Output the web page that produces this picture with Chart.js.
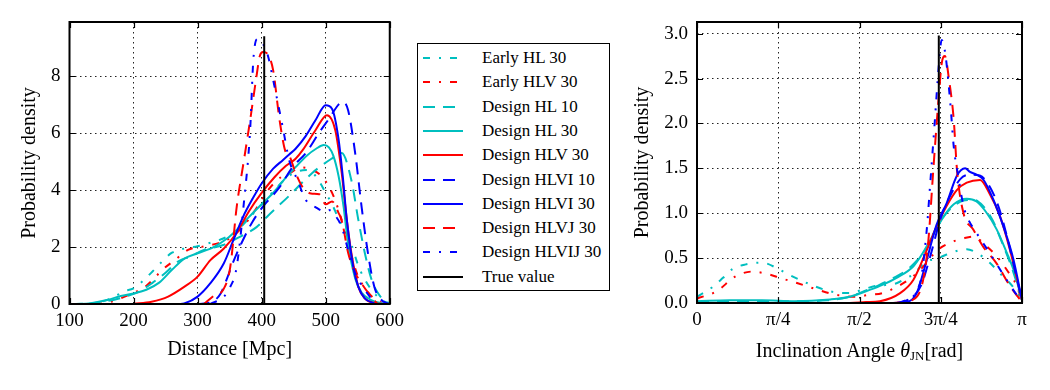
<!DOCTYPE html>
<html><head><meta charset="utf-8">
<script src="https://cdn.jsdelivr.net/npm/chart.js@4.4.1/dist/chart.umd.min.js"></script>
<style>
html,body{margin:0;padding:0;background:#fff;}
body{width:1050px;height:390px;position:relative;overflow:hidden;font-family:"Liberation Serif","Times New Roman",serif;color:#000;}
#c1{position:absolute;left:0;top:0;}
#c2{position:absolute;left:620px;top:0;}
#legend{position:absolute;left:417px;top:43px;width:193px;height:248px;border:1.5px solid #000;box-sizing:border-box;background:#fff;}
.row{position:absolute;left:0;height:24px;width:190px;}
.row svg{position:absolute;left:5px;top:0;}
.row span{position:absolute;left:64px;top:0;line-height:24px;font-size:17px;white-space:nowrap;}
#xt2{position:absolute;left:697px;width:325px;top:338px;text-align:center;font-size:20px;line-height:24px;white-space:nowrap;}
#xt2 sub{font-size:13px;line-height:0;vertical-align:-3px;}
</style>
</head><body>
<canvas id="c1" width="410" height="390"></canvas>
<div id="legend"></div>
<canvas id="c2" width="430" height="390"></canvas>
<div id="xt2">Inclination Angle <i>θ</i><sub>JN</sub>[rad]</div>
<script>
// ---------------- DATA ----------------
const seriesNames = ['Early HL 30','Early HLV 30','Design HL 10','Design HL 30','Design HLV 30','Design HLVI 10','Design HLVI 30','Design HLVJ 30','Design HLVIJ 30','True value'];

// Left panel: distance [Mpc] vs probability density
const distTicks = [100,200,300,400,500,600];
const distYTicks = [0,2,4,6,8];

const dEarlyHL30X  = [110,130,150,170,185,200,215,230,245,260,280,300,320,340,360,380,400,420,440,460,470,480,490,500,510,520,530,540,550,560,575,590,600];
const dEarlyHL30Y  = [0,0.02,0.08,0.25,0.45,0.55,0.82,1.15,1.5,1.8,1.95,2.03,2.15,2.3,2.55,3.0,3.5,4.0,4.45,4.68,4.7,4.6,4.3,3.9,3.5,3.0,2.6,2.1,1.4,0.9,0.4,0.1,0.03];
const dEarlyHLV30X = [140,160,180,200,215,230,245,265,285,305,330,350,370,390,410,430,445,460,480,495,510,520,530,540,550,560,575,590];
const dEarlyHLV30Y = [0,0.05,0.2,0.4,0.55,0.85,1.2,1.55,1.9,2.0,2.12,2.3,2.7,3.3,4.0,4.45,4.6,4.8,4.7,4.45,3.9,3.3,2.5,1.7,1.0,0.6,0.2,0.02];
const dHL10X   = [130,150,170,190,210,230,250,270,290,310,340,366,392,410,443,479,509,525,540,551,561,571,581,594,600];
const dHL10Y   = [0,0.08,0.15,0.28,0.45,0.75,1.1,1.5,1.68,1.9,2.07,2.36,2.7,3.1,3.8,4.6,5.1,5.3,4.35,2.95,1.8,0.9,0.4,0.08,0.02];
const dHL30X   = [100,130,160,180,200,220,240,260,280,300,325,346,361,380,400,420,440,455,470,485,497,505,512,520,528,535,546,556,571,587,600];
const dHL30Y   = [0,0.02,0.15,0.28,0.37,0.5,0.75,1.2,1.6,1.78,2.0,2.3,2.6,3.05,3.5,3.95,4.5,4.85,5.2,5.45,5.58,5.5,5.2,4.5,3.4,2.1,0.9,0.4,0.14,0.03,0];
const dHLV30X  = [200,228,254,279,300,320,341,361,380,400,420,438,453,464,484,502,515,525,533,540,551,561,576,590];
const dHLV30Y  = [0,0.08,0.26,0.6,0.96,1.54,1.95,2.5,3.25,3.9,4.45,4.85,5.1,5.4,6.1,6.63,6.1,4.6,2.95,1.8,0.6,0.2,0.03,0];
const dHLVI10X = [300,323,336,346,356,372,386,402,428,448,469,489,505,520,527,535,546,556,566,576,587,597];
const dHLVI10Y = [0,0.08,0.37,0.9,1.5,2.3,2.9,3.42,4.1,4.8,5.3,5.99,6.5,7.0,7.1,6.8,5.3,3.42,1.78,0.6,0.14,0.02];
const dHLVI30X = [270,279,300,320,341,356,371,386,400,418,433,443,453,469,484,500,510,520,527,533,543,551,561,576];
const dHLVI30Y = [0,0.02,0.26,0.73,1.43,2.25,3.06,3.7,4.23,4.75,5.05,5.25,5.45,5.9,6.45,6.98,6.85,5.8,4.4,2.95,1.31,0.6,0.2,0.02];
const dHLVJ30X = [310,326,340,351,361,372,382,392,397,402,410,418,428,438,443,453,464,477,490,500,510,520,525,535,546,556,571,581];
const dHLVJ30Y = [0,0.3,0.5,1.3,3.4,5.0,6.45,8.0,8.7,8.85,8.75,8.2,6.45,5.3,5.2,4.6,4.1,3.88,3.85,3.5,3.6,3.2,2.95,1.8,1.1,0.72,0.26,0];
const dHLVIJ30X = [320,341,351,361,372,382,387,393,400,410,418,433,443,456,469,484,500,505,515,525,535,546,561,576];
const dHLVIJ30Y = [0,0.26,0.6,1.3,3.5,6.1,8.56,9.3,9.2,8.7,7.86,6.2,5.05,4.35,3.65,3.4,3.24,3.3,3.1,2.7,1.9,1.08,0.5,0.05];
const dTrueX = [404,404];
const dTrueY = [0,9.4];

// Right panel: inclination angle (in units of pi) vs probability density
const incTicks = [0,0.25,0.5,0.75,1];
const incTickLabels = ['0','π/4','π/2','3π/4','π'];
const incYTicks = [0,0.5,1.0,1.5,2.0,2.5,3.0];

const iEarlyHL30X  = [0,0.045,0.08,0.11,0.15,0.2,0.25,0.28,0.34,0.41,0.47,0.51,0.55,0.58,0.614,0.645,0.666,0.7,0.743,0.768,0.809,0.83,0.86,0.9,0.94,0.97,1.0];
const iEarlyHL30Y  = [0.07,0.17,0.28,0.38,0.43,0.45,0.38,0.32,0.22,0.13,0.11,0.15,0.19,0.2,0.22,0.28,0.32,0.45,0.5,0.54,0.59,0.6,0.56,0.45,0.3,0.19,0.02];
const iEarlyHLV30X = [0,0.06,0.12,0.17,0.22,0.255,0.31,0.37,0.43,0.48,0.53,0.57,0.62,0.666,0.7,0.737,0.778,0.82,0.85,0.892,0.922,0.953,0.984,1.0];
const iEarlyHLV30Y = [0.05,0.13,0.3,0.35,0.32,0.28,0.22,0.15,0.09,0.07,0.09,0.11,0.19,0.3,0.42,0.58,0.67,0.72,0.74,0.63,0.52,0.37,0.19,0.02];
const iHL10X   = [0,0.1,0.2,0.3,0.4,0.47,0.52,0.56,0.6,0.65,0.7,0.74,0.78,0.82,0.85,0.88,0.91,0.94,0.97,1.0];
const iHL10Y   = [0.01,0.02,0.02,0.02,0.03,0.07,0.14,0.2,0.27,0.38,0.58,0.86,1.05,1.14,1.15,1.08,0.92,0.66,0.38,0.03];
const iHL30X   = [0,0.1,0.2,0.3,0.41,0.47,0.52,0.563,0.614,0.666,0.697,0.73,0.76,0.79,0.83,0.86,0.892,0.922,0.953,0.974,1.0];
const iHL30Y   = [0.02,0.03,0.03,0.02,0.04,0.07,0.13,0.19,0.28,0.41,0.57,0.78,0.97,1.1,1.16,1.13,1.0,0.82,0.56,0.37,0.03];
const iHLV30X  = [0,0.3,0.45,0.52,0.563,0.625,0.666,0.707,0.737,0.768,0.8,0.83,0.871,0.9,0.932,0.963,1.0];
const iHLV30Y  = [0,0,0,0.01,0.02,0.11,0.26,0.59,0.85,1.08,1.26,1.34,1.37,1.22,0.97,0.59,0.03];
const iHLVI10X = [0,0.3,0.6,0.66,0.69,0.72,0.75,0.78,0.81,0.84,0.87,0.9,0.93,0.96,0.99,1.0];
const iHLVI10Y = [0,0,0,0.06,0.2,0.55,0.95,1.2,1.38,1.43,1.42,1.3,1.05,0.65,0.18,0.04];
const iHLVI30X = [0,0.3,0.6,0.645,0.676,0.707,0.737,0.768,0.8,0.825,0.84,0.86,0.882,0.912,0.943,0.974,1.0];
const iHLVI30Y = [0,0,0,0.01,0.11,0.48,0.87,1.11,1.42,1.5,1.46,1.43,1.37,1.15,0.85,0.48,0.03];
const iHLVJ30X = [0.6,0.666,0.696,0.712,0.727,0.743,0.753,0.763,0.775,0.79,0.8,0.82,0.85,0.88,0.92,0.963,0.994,1.0];
const iHLVJ30Y = [0,0.04,0.26,0.7,1.48,2.26,2.67,2.75,2.5,2.04,1.48,1.0,0.82,0.63,0.45,0.19,0.04,0.02];
const iHLVIJ30X = [0.62,0.635,0.686,0.706,0.717,0.732,0.743,0.753,0.765,0.78,0.79,0.804,0.82,0.835,0.86,0.9,0.94,0.98,1.0];
const iHLVIJ30Y = [0,0.02,0.22,0.78,1.3,2.04,2.6,2.93,2.75,2.2,1.74,1.41,1.08,0.93,0.78,0.56,0.33,0.11,0.02];
const iTrueX = [0.744,0.744];
const iTrueY = [0,2.98];

// ---------------- STYLES ----------------
const CYAN = '#00BFBF', RED = '#FF0000', BLUE = '#0000FF', BLACK = '#000000';
const DASH = [12,8], DASHDOT = [7,9,2,9], SOLID = [];
const seriesColors = [CYAN, RED, CYAN, CYAN, RED, BLUE, BLUE, RED, BLUE, BLACK];
const seriesDashes = [DASHDOT, DASHDOT, DASH, SOLID, SOLID, DASH, SOLID, DASH, DASHDOT, SOLID];
const FONT = '"Liberation Serif","Times New Roman",serif';

const pts = (xs, ys) => xs.map((x, i) => ({x: x, y: ys[i]}));
function makeDatasets(list) {
  const n = list.length;
  return list.map((pair, i) => ({
    label: seriesNames[i],
    data: pts(pair[0], pair[1]),
    borderColor: seriesColors[i],
    backgroundColor: seriesColors[i],
    borderDash: seriesDashes[i],
    borderWidth: 2,
    pointRadius: 0,
    fill: false,
    tension: 0.4,
    cubicInterpolationMode: i === n - 1 ? 'default' : 'monotone',
    order: n - i
  }));
}

const framePlugin = {
  id: 'frame',
  afterDatasetsDraw(chart) {
    const {ctx, chartArea: a, scales: {x, y}} = chart;
    ctx.save();
    ctx.setLineDash([]);
    ctx.strokeStyle = '#000';
    ctx.lineWidth = 1.2;
    const L = 6;
    ctx.beginPath();
    x.ticks.forEach(t => {
      const p = Math.round(x.getPixelForValue(t.value)) + 0.5;
      ctx.moveTo(p, a.bottom); ctx.lineTo(p, a.bottom - L);
      ctx.moveTo(p, a.top); ctx.lineTo(p, a.top + L);
    });
    y.ticks.forEach(t => {
      const p = Math.round(y.getPixelForValue(t.value)) + 0.5;
      ctx.moveTo(a.left, p); ctx.lineTo(a.left + L, p);
      ctx.moveTo(a.right, p); ctx.lineTo(a.right - L, p);
    });
    ctx.stroke();
    ctx.lineWidth = 2;
    ctx.strokeRect(a.left, a.top, a.right - a.left, a.bottom - a.top);
    ctx.restore();
  }
};

function axis(opts) {
  return {
    type: 'linear',
    min: opts.min, max: opts.max,
    afterBuildTicks: ax => { ax.ticks = opts.ticks.map(v => ({value: v})); },
    afterFit: opts.fit,
    ticks: {
      callback: opts.label, autoSkip: false, maxRotation: 0, minRotation: 0,
      color: '#000', font: {family: FONT, size: 19}, padding: opts.pad
    },
    grid: {color: '#222', lineWidth: 1, drawTicks: false},
    border: {display: false, dash: [1.5, 3.5]},
    title: opts.title ? {display: true, text: opts.title, color: '#000', font: {family: FONT, size: 20}, padding: opts.tpad} : {display: false}
  };
}

const baseOpts = (pad, xs, ys) => ({
  responsive: false, animation: false, devicePixelRatio: 1,
  layout: {padding: pad, autoPadding: false},
  plugins: {legend: {display: false}, tooltip: {enabled: false}},
  scales: {x: xs, y: ys}
});

// Left chart
new Chart(document.getElementById('c1'), {
  type: 'line',
  data: {datasets: makeDatasets([
    [dEarlyHL30X, dEarlyHL30Y], [dEarlyHLV30X, dEarlyHLV30Y], [dHL10X, dHL10Y], [dHL30X, dHL30Y],
    [dHLV30X, dHLV30Y], [dHLVI10X, dHLVI10Y], [dHLVI30X, dHLVI30Y], [dHLVJ30X, dHLVJ30Y],
    [dHLVIJ30X, dHLVIJ30Y], [dTrueX, dTrueY]
  ])},
  options: baseOpts({left: 0, top: 22, right: 15, bottom: 0},
    axis({min: 100, max: 600, ticks: distTicks, label: v => String(v), pad: 6,
          fit: a => { a.height = 86; }, title: 'Distance [Mpc]', tpad: {top: 0, bottom: 28}}),
    axis({min: 0, max: 9.9, ticks: distYTicks, label: v => String(v), pad: 9,
          fit: a => { a.width = 69.5; }, title: 'Probability density', tpad: {top: 18, bottom: 0}})
  ),
  plugins: [framePlugin]
});

// Right chart
new Chart(document.getElementById('c2'), {
  type: 'line',
  data: {datasets: makeDatasets([
    [iEarlyHL30X, iEarlyHL30Y], [iEarlyHLV30X, iEarlyHLV30Y], [iHL10X, iHL10Y], [iHL30X, iHL30Y],
    [iHLV30X, iHLV30Y], [iHLVI10X, iHLVI10Y], [iHLVI30X, iHLVI30Y], [iHLVJ30X, iHLVJ30Y],
    [iHLVIJ30X, iHLVIJ30Y], [iTrueX, iTrueY]
  ])},
  options: baseOpts({left: 0, top: 22, right: 28, bottom: 0},
    axis({min: 0, max: 1, ticks: incTicks, label: (v, i) => incTickLabels[i], pad: 6,
          fit: a => { a.height = 87; }, title: null}),
    axis({min: 0, max: 3.13, ticks: incYTicks, label: v => Number(v).toFixed(1), pad: 9,
          fit: a => { a.width = 77; }, title: 'Probability density', tpad: {top: 11, bottom: 0}})
  ),
  plugins: [framePlugin]
});

// Legend (HTML text, line samples drawn as SVG)
const leg = document.getElementById('legend');
seriesNames.forEach((name, i) => {
  const row = document.createElement('div');
  row.className = 'row';
  row.style.top = (2 + i * 24.3) + 'px';
  const dash = seriesDashes[i].length ? seriesDashes[i].join(',') : 'none';
  row.innerHTML = '<svg width="42" height="24"><line x1="0" y1="12" x2="40" y2="12" stroke="' + seriesColors[i] +
    '" stroke-width="2" stroke-dasharray="' + dash + '"/></svg><span>' + name + '</span>';
  leg.appendChild(row);
});
</script>
</body></html>
